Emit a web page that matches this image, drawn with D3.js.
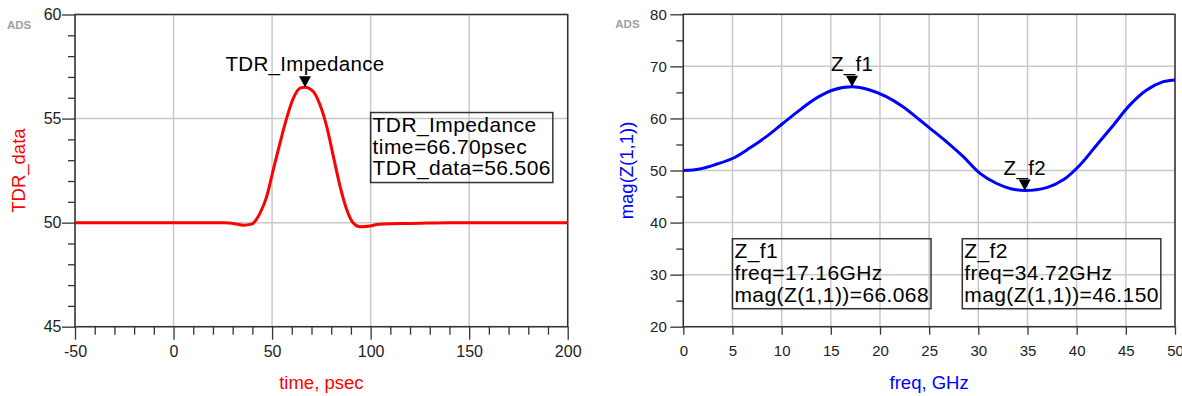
<!DOCTYPE html>
<html>
<head>
<meta charset="utf-8">
<script src="https://cdn.jsdelivr.net/npm/d3@7"></script>
<style>
  body { margin: 0; background: #fff; }
  svg { font-family: "Liberation Sans", Arial, sans-serif; }
</style>
</head>
<body>
<svg id="chart" width="1182" height="396"></svg>
<script>
// TDR impedance trace (time in psec, impedance in ohm)
const tdrTime  = [-50, 0, 25, 28.6, 32, 35.4, 39.6, 43.9, 47.3, 50.6, 54, 57.4, 60.8, 64.2, 66.7, 70.9, 74.3, 77.7, 81.1, 84.5, 87.9, 91.2, 94.6, 99.7, 103.9, 110, 120, 140, 200];
const tdrValue = [50, 50, 50, 49.98, 49.93, 49.88, 49.93, 50.46, 51.26, 52.54, 53.82, 55.02, 55.98, 56.46, 56.506, 56.3, 55.66, 54.62, 53.18, 51.74, 50.62, 49.98, 49.8, 49.84, 49.92, 49.95, 49.96, 50, 50];

// mag(Z(1,1)) vs frequency in GHz
const freqGHz = [0, 1.67, 3.36, 5.05, 6.75, 8.44, 10.14, 11.83, 13.53, 15.22, 17.16, 18.95, 20.64, 22.34, 24.04, 25.09, 26.78, 28.47, 30.17, 31.87, 33.3, 34.72, 36.95, 38.64, 40.34, 42.04, 43.73, 45.42, 47.12, 48.81, 50];
const magZ    = [50, 50.3, 51.2, 52.35, 54.3, 56.5, 59.07, 61.6, 63.9, 65.46, 66.068, 65.46, 64.2, 62.25, 59.7, 58.1, 55.5, 52.65, 49.46, 47.5, 46.5, 46.15, 46.7, 48.2, 51.06, 54.9, 58.7, 62.6, 65.46, 67.06, 67.4];

const leftXTicks = [-50, 0, 50, 100, 150, 200];
const leftYTicks = [45, 50, 55, 60];
const rightXTicks = [0, 5, 10, 15, 20, 25, 30, 35, 40, 45, 50];
const rightYTicks = [20, 30, 40, 50, 60, 70, 80];

const tdrMarker = {name: "TDR_Impedance", x: 66.7, y: 56.506, lines: ["TDR_Impedance", "time=66.70psec", "TDR_data=56.506"], boxX: 100, boxY: 55.29};
const zMarkers = [
  {name: "Z_f1", x: 17.16, y: 66.068, lines: ["Z_f1", "freq=17.16GHz", "mag(Z(1,1))=66.068"], boxX: 5, boxY: 36.9},
  {name: "Z_f2", x: 34.72, y: 46.150, lines: ["Z_f2", "freq=34.72GHz", "mag(Z(1,1))=46.150"], boxX: 28.37, boxY: 36.9}
];

const svg = d3.select("#chart");
const frameColor = "#333";
const gridColor = "#c8c8c8";

function drawPanel(opt) {
  const x = d3.scaleLinear().domain(opt.xDomain).range([opt.left, opt.right]);
  const y = d3.scaleLinear().domain(opt.yDomain).range([opt.bottom, opt.top]);
  const g = svg.append("g");

  // grid
  g.append("g").selectAll("line").data(opt.xTicks).enter().append("line")
    .attr("x1", d => x(d)).attr("x2", d => x(d))
    .attr("y1", opt.top).attr("y2", opt.bottom)
    .attr("stroke", gridColor).attr("stroke-width", 1.5);
  g.append("g").selectAll("line").data(opt.yTicks).enter().append("line")
    .attr("x1", opt.left).attr("x2", opt.right)
    .attr("y1", d => y(d)).attr("y2", d => y(d))
    .attr("stroke", gridColor).attr("stroke-width", 1.5);

  // minor ticks
  g.append("g").call(d3.axisLeft(y).tickValues(opt.yMinor).tickSize(7).tickFormat(""))
    .attr("transform", `translate(${opt.left},0)`)
    .call(a => a.select(".domain").remove())
    .selectAll("line").attr("stroke", frameColor).attr("stroke-width", 1.3);
  if (opt.xMinor.length) {
    g.append("g").call(d3.axisBottom(x).tickValues(opt.xMinor).tickSize(8).tickFormat(""))
      .attr("transform", `translate(0,${opt.bottom})`)
      .call(a => a.select(".domain").remove())
      .selectAll("line").attr("stroke", frameColor).attr("stroke-width", 1.3);
  }

  // major axes (plain hyphen for negatives, like the original)
  const ya = g.append("g").attr("transform", `translate(${opt.left},0)`)
    .call(d3.axisLeft(y).tickValues(opt.yTicks).tickSize(13).tickSizeOuter(0)
      .tickPadding(opt.yPad).tickFormat(d => String(d)));
  const xa = g.append("g").attr("transform", `translate(0,${opt.bottom})`)
    .call(d3.axisBottom(x).tickValues(opt.xTicks).tickSize(opt.xTickLen).tickSizeOuter(0)
      .tickPadding(19 - opt.xTickLen).tickFormat(d => String(d)));
  [ya, xa].forEach(a => {
    a.select(".domain").remove();
    a.selectAll("line").attr("stroke", frameColor).attr("stroke-width", 1.3);
    a.selectAll("text").attr("fill", "#222").style("font-size", opt.tickFont + "px")
      .style("font-family", "'Liberation Sans', Arial, sans-serif");
  });

  // frame
  g.append("rect")
    .attr("x", opt.left).attr("y", opt.top)
    .attr("width", opt.right - opt.left).attr("height", opt.bottom - opt.top)
    .attr("fill", "none").attr("stroke", frameColor).attr("stroke-width", 1.5);

  // trace
  const line = d3.line().x(d => x(d[0])).y(d => y(d[1])).curve(opt.curve);
  g.append("path")
    .datum(opt.xs.map((v, i) => [v, opt.ys[i]]))
    .attr("d", line)
    .attr("fill", "none").attr("stroke", opt.color).attr("stroke-width", 3)
    .attr("stroke-linejoin", "round");

  // "ADS" tag
  g.append("text").attr("x", opt.left - 68).attr("y", opt.top + 14)
    .attr("fill", "#a0a0a0").style("font-size", "11.5px").style("font-weight", "bold")
    .text("ADS");

  // axis titles
  g.append("text")
    .attr("transform", `translate(${opt.left - 50},${(opt.top + opt.bottom) / 2}) rotate(-90)`)
    .attr("text-anchor", "middle").attr("fill", opt.color).style("font-size", "18.5px")
    .text(opt.yTitle);
  g.append("text")
    .attr("x", (opt.left + opt.right) / 2).attr("y", 389)
    .attr("text-anchor", "middle").attr("fill", opt.color).style("font-size", "18.5px")
    .text(opt.xTitle);

  // markers
  opt.markers.forEach(m => {
    const px = x(m.x), py = y(m.y);
    g.append("path")
      .attr("d", `M${px},${py} L${px - 6},${py - 11} L${px + 6},${py - 11} Z`)
      .attr("fill", "#000");
    g.append("text").attr("x", px).attr("y", py - 16)
      .attr("text-anchor", "middle").attr("fill", "#000")
      .style("font-size", "20.5px").style("letter-spacing", "0.3px")
      .text(m.name);

    const bx = x(m.boxX), by = y(m.boxY);
    const box = g.append("g");
    const texts = box.selectAll("text").data(m.lines).enter().append("text")
      .attr("x", bx + 2).attr("y", (d, i) => by + 19.5 + i * 21.7)
      .attr("fill", "#000").style("font-size", "21px").style("letter-spacing", "0.4px")
      .text(d => d);
    let w = 0;
    texts.each(function () { w = Math.max(w, this.getComputedTextLength()); });
    box.append("rect")
      .attr("x", bx).attr("y", by)
      .attr("width", w + 4).attr("height", 70)
      .attr("fill", "none").attr("stroke", frameColor).attr("stroke-width", 1.5);
  });
}

drawPanel({
  left: 75, right: 567.7, top: 14.5, bottom: 326.7,
  xDomain: [-50, 200], yDomain: [45, 60],
  xTicks: leftXTicks, yTicks: leftYTicks,
  xMinor: d3.range(-50, 201, 10).filter(v => v % 50 !== 0),
  yMinor: d3.range(45, 61, 1).filter(v => v % 5 !== 0),
  xTickLen: 13, yPad: 0.5, tickFont: 16,
  xs: tdrTime, ys: tdrValue, color: "#ff0000", curve: d3.curveMonotoneX,
  xTitle: "time, psec", yTitle: "TDR_data",
  markers: [tdrMarker]
});

drawPanel({
  left: 683.3, right: 1175, top: 14.3, bottom: 326.7,
  xDomain: [0, 50], yDomain: [20, 80],
  xTicks: rightXTicks, yTicks: rightYTicks,
  xMinor: [],
  yMinor: d3.range(25, 80, 10),
  xTickLen: 8, yPad: 3.5, tickFont: 15,
  xs: freqGHz, ys: magZ, color: "#0000ff", curve: d3.curveCatmullRom.alpha(0.5),
  xTitle: "freq, GHz", yTitle: "mag(Z(1,1))",
  markers: zMarkers
});
</script>
</body>
</html>
